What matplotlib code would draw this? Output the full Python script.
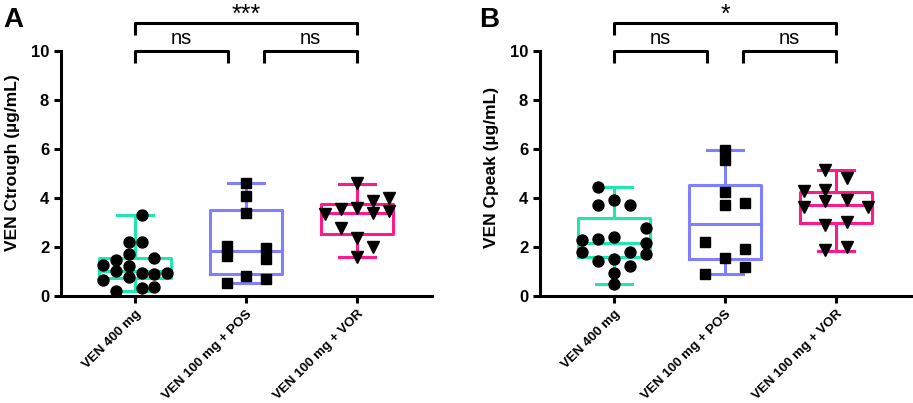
import matplotlib
matplotlib.use("Agg")
import matplotlib.pyplot as plt

plt.rcParams['font.family'] = ['Liberation Sans', 'DejaVu Sans']

groups = ["VEN 400 mg", "VEN 100 mg + POS", "VEN 100 mg + VOR"]
colors = ['#1EE8B0', '#8080FF', '#FF1A8C']
markers = ['o', 's', 'v']
marker_sizes = [7.9, 7.4, 8.2]

# panel A: trough concentrations (ug/mL)
trough_400 = [3.31, 2.18, 2.19, 1.69, 1.47, 1.54, 1.25, 1.22, 1.01,
              0.93, 0.89, 0.94, 0.75, 0.63, 0.31, 0.35, 0.20]
trough_pos = [4.59, 4.08, 3.36, 2.04, 1.62, 1.96, 1.49, 0.82, 0.68, 0.51]
trough_vor = [4.59, 3.87, 3.98, 3.53, 3.57, 3.40, 3.47, 3.32, 2.75,
              2.34, 2.00, 1.59]
# box stats: min, q1, median, q3, max
trough_box = [[0.18, 0.71, 1.02, 1.53, 3.31],
              [0.51, 0.89, 1.81, 3.50, 4.59],
              [1.57, 2.52, 3.40, 3.74, 4.56]]

# panel B: peak concentrations (ug/mL)
peak_400 = [4.45, 3.70, 3.90, 3.70, 2.78, 2.27, 2.31, 2.41, 2.14,
            1.80, 1.80, 1.70, 1.43, 1.50, 1.21, 0.94, 0.47]
peak_pos = [5.95, 5.54, 4.25, 3.70, 3.80, 2.18, 1.89, 1.55, 1.16, 0.87]
peak_vor = [5.13, 4.83, 4.29, 4.34, 3.88, 3.91, 3.61, 3.61, 2.89,
            3.02, 1.87, 2.00]
peak_box = [[0.47, 1.57, 2.14, 3.17, 4.45],
            [0.89, 1.50, 2.95, 4.52, 5.97],
            [1.82, 2.98, 3.70, 4.25, 5.13]]

# horizontal scatter of the points (fraction of category spacing)
jit_a = [[0.06, -0.057, 0.06, -0.057, -0.171, 0.174, -0.285, -0.057, -0.171,
          0.06, 0.174, 0.288, -0.057, -0.285, 0.06, 0.174, -0.171],
         [0, 0, 0, -0.17, -0.17, 0.18, 0.18, 0, 0.18, -0.17],
         [0, 0.144, 0.288, -0.144, 0, 0.144, 0.288, -0.288, -0.144, 0, 0.144, 0]]
jit_b = [[-0.144, -0.144, 0, 0.144, 0.288, -0.288, -0.144, 0, 0.288,
          -0.288, 0.144, 0.288, -0.144, 0, 0.144, 0, 0],
         [0, 0, 0, 0, 0.18, -0.18, 0.18, 0, 0.18, -0.18],
         [-0.1, 0.1, -0.29, -0.1, -0.1, 0.1, -0.29, 0.29, -0.1, 0.1, -0.1, 0.1]]

ylabels = ["VEN Ctrough (µg/mL)", "VEN Cpeak (µg/mL)"]
ylabel_y = [0.545, 0.525]
stars = ["***", "*"]

lw = 2.2
fig = plt.figure(figsize=(9.13, 4.03), dpi=100)
ax_a = fig.add_axes([61/913, 107.3/403, 371/913, 244.7/403])
ax_b = fig.add_axes([540/913, 107.3/403, 371/913, 244.7/403])

panels = [(ax_a, [trough_400, trough_pos, trough_vor], trough_box, jit_a),
          (ax_b, [peak_400, peak_pos, peak_vor], peak_box, jit_b)]

for k, (ax, series, box, jit) in enumerate(panels):
    for i in range(3):
        st = dict(zip(['whislo', 'q1', 'med', 'q3', 'whishi'], box[i]))
        st['fliers'] = []
        ax.bxp([st], positions=[i], widths=0.65, capwidths=0.32,
               showfliers=False,
               boxprops=dict(color=colors[i], linewidth=lw),
               medianprops=dict(color=colors[i], linewidth=lw),
               whiskerprops=dict(color=colors[i], linewidth=lw),
               capprops=dict(color=colors[i], linewidth=lw))
        xs = [i + d for d in jit[i]]
        ax.plot(xs, series[i], linestyle='none', marker=markers[i],
                markersize=marker_sizes[i], color='black', zorder=5)

    ax.set_xlim(-0.667, 2.675)
    ax.set_ylim(0, 10)
    ax.set_yticks([0, 2, 4, 6, 8, 10])
    ax.set_xticks([0, 1, 2])
    ax.set_xticklabels(groups, rotation=45, ha='right', va='top',
                       rotation_mode='anchor', fontsize=9.6, fontweight='bold')
    for t in ax.get_yticklabels():
        t.set_fontweight('bold')
        t.set_fontsize(12)
    ax.tick_params(width=lw, length=5)
    ax.tick_params(axis='x', pad=4)
    ax.spines['top'].set_visible(False)
    ax.spines['right'].set_visible(False)
    ax.spines['left'].set_linewidth(lw)
    ax.spines['bottom'].set_linewidth(lw)
    ax.set_ylabel(ylabels[k], fontsize=12.5, fontweight='bold')
    ax.yaxis.set_label_coords(-41/371, ylabel_y[k])

    # significance brackets
    def bracket(x0, x1, y, leg, label, fs, dy, va):
        ax.plot([x0, x0, x1, x1], [y - leg, y, y, y - leg], color='black',
                linewidth=lw, clip_on=False, solid_capstyle='butt')
        ax.text((x0 + x1) / 2, y + dy, label, ha='center', va=va,
                fontsize=fs)
    bracket(0, 0.84, 10.0, 0.48, "ns", 14.5, 0.12, 'bottom')
    bracket(1.16, 2, 10.0, 0.48, "ns", 14.5, 0.12, 'bottom')
    bracket(0, 2, 11.15, 0.5, stars[k], 18, 0.05, 'baseline')

fig.text(3/913, 1 - 27/403, "A", fontsize=20, fontweight='bold')
fig.text(479/913, 1 - 27/403, "B", fontsize=20, fontweight='bold')

fig.savefig("out.png", dpi=100)
